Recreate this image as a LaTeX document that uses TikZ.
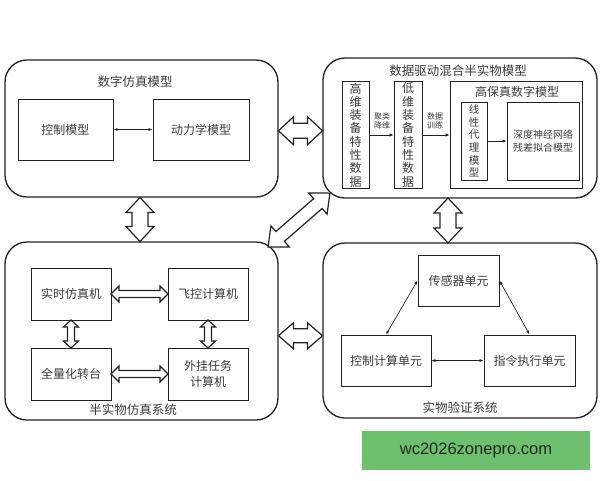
\documentclass[tikz,border=0pt]{standalone}
\usepackage{fontspec}
\setmainfont{Noto Sans CJK SC}
\newfontfamily\latinfont{Liberation Sans}
\usetikzlibrary{calc,arrows.meta}
\definecolor{wmgreen}{HTML}{6BBF6D}
\definecolor{ln}{HTML}{222222}
\definecolor{tx}{HTML}{3A3A3A}
\newcommand\blockarr[6]{%
  \begin{scope}[shift={#1},rotate=#2]
    \draw[blk] ({-#3/2},0) -- ({-#3/2+#6},#4) -- ({-#3/2+#6},#5) -- ({#3/2-#6},#5) -- ({#3/2-#6},#4) -- ({#3/2},0)
      -- ({#3/2-#6},-#4) -- ({#3/2-#6},-#5) -- ({-#3/2+#6},-#5) -- ({-#3/2+#6},-#4) -- cycle;
  \end{scope}}
\begin{document}
\begin{tikzpicture}[x=1pt,y=-1pt,
  outer/.style={draw=ln, line width=1.3pt, rounded corners=22pt, inner sep=0pt},
  inner/.style={draw=ln, line width=0.9pt, text=tx, font=\fontsize{12}{14}\selectfont, align=center, inner sep=1pt},
  vtext/.style={inner, font=\fontsize{12}{13.3}\selectfont},
  blk/.style={draw=ln, line width=1.2pt, fill=white, line join=miter},
  tarr/.style={{Latex[length=4pt,width=3pt]}-{Latex[length=4pt,width=3pt]}, line width=0.7pt, draw=ln},
  sarr/.style={-{Latex[length=4pt,width=3.5pt]}, line width=0.8pt, draw=ln},
  ttl/.style={text=tx, font=\fontsize{12.5}{14}\selectfont, inner sep=0pt},
  small/.style={text=tx, font=\fontsize{8}{9.5}\selectfont, align=center, inner sep=0pt}]
\useasboundingbox (0,0) rectangle (600,480);
\fill[white] (0,0) rectangle (600,480);

% outer boxes
\node[outer, minimum width=273, minimum height=137] (dsim) at (141.5,128.5) {};
\node[outer, minimum width=274, minimum height=140] (drv) at (460,128) {};
\node[outer, minimum width=273, minimum height=178] (hil) at (141.5,331) {};
\node[outer, minimum width=274, minimum height=175] (ver) at (460,330.5) {};

% titles
\node[ttl] (t1) at (135,82) {数字仿真模型};
\node[ttl] (t2) at (458,71) {数据驱动混合半实物模型};
\node[ttl] (t3) at (133,410) {半实物仿真系统};
\node[ttl] (t4) at (460,408) {实物验证系统};

% digital simulation model
\node[inner, minimum width=95, minimum height=61] (ctl) at (65.5,129.5) {控制模型};
\node[inner, minimum width=96, minimum height=61] (dyn) at (201,129.5) {动力学模型};
\draw[tarr] (ctl.east) -- (dyn.west);

% data-driven hybrid model
\node[vtext, minimum width=27, minimum height=106] (hd) at (355.5,135) {高\\维\\装\\备\\特\\性\\数\\据};
\node[vtext, minimum width=28, minimum height=106] (ld) at (408,135) {低\\维\\装\\备\\特\\性\\数\\据};
\node[inner, minimum width=132, minimum height=107] (hf) at (516,134.5) {};
\node[ttl, font=\fontsize{12}{14}\selectfont] (hft) at (517,92) {高保真数字模型};
\node[inner, font=\fontsize{10.5}{12.6}\selectfont, minimum width=26, minimum height=78] (lin) at (474,141) {线\\性\\代\\理\\模\\型};
\node[inner, font=\fontsize{10}{13}\selectfont, minimum width=72, minimum height=78] (dnn) at (543,141) {深度神经网络\\残差拟合模型};
\draw[sarr] (hd.east) -- (ld.west);
\draw[sarr] (ld.east) -- (ld.east -| hf.west);
\draw[sarr] (lin.east) -- (lin.east -| dnn.west);
\node[small] (l1) at (382,121) {聚类\\降维};
\node[small] (l2) at (435,121) {数据\\训练};

% hardware-in-the-loop system
\node[inner, minimum width=80, minimum height=52] (rts) at (71,294) {实时仿真机};
\node[inner, minimum width=80, minimum height=52] (fcc) at (208,294) {飞控计算机};
\node[inner, minimum width=80, minimum height=52] (tbl) at (71,374) {全量化转台};
\node[inner, minimum width=80, minimum height=52, font=\fontsize{12}{16}\selectfont] (ext) at (208,374) {外挂任务\\计算机};
\blockarr{($(rts.east)!.5!(fcc.west)$)}{0}{57}{8}{3.5}{8}
\blockarr{($(tbl.east)!.5!(ext.west)$)}{0}{57}{8}{3.5}{8}
\blockarr{($(rts.south)!.5!(tbl.north)$)}{90}{28}{7.5}{3.5}{7}
\blockarr{($(fcc.south)!.5!(ext.north)$)}{90}{28}{7.5}{3.5}{7}

% physical verification system
\node[inner, minimum width=81, minimum height=51] (sens) at (458.5,280.5) {传感器单元};
\node[inner, minimum width=90, minimum height=51] (cpu) at (386,360.5) {控制计算单元};
\node[inner, minimum width=91, minimum height=51] (cmd) at (529.5,360.5) {指令执行单元};
\draw[tarr] (sens.west) -- (cpu.north);
\draw[tarr] (sens.east) -- (cmd.north);
\draw[tarr] (cpu.east) -- (cmd.west);

% big block arrows between systems
\blockarr{($(dsim.east)!.5!(drv.west)+(0,2.5)$)}{0}{44}{14}{7.5}{15}
\blockarr{($(hil.east)!.5!(ver.west)+(0,5)$)}{0}{44}{13}{7}{15}
\blockarr{($(dsim.south)!.5!(hil.north)+(-1.5,0)$)}{90}{44}{14}{8}{15}
\blockarr{($(drv.south)!.5!(ver.north)+(-12,0)$)}{90}{45}{14}{8}{15}
\blockarr{(299,220)}{41}{82}{14}{6.5}{16}

% watermark
\node[fill=wmgreen, minimum width=228, minimum height=39, inner sep=0pt, text=black!85,
  font=\latinfont\fontsize{16.5}{18}\selectfont] (wm) at (476,450.5) {wc2026zonepro.com};
\end{tikzpicture}
\end{document}
